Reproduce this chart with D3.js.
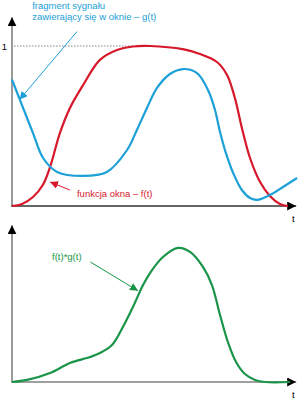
<!DOCTYPE html>
<html>
<head>
<meta charset="utf-8">
<script src="https://cdn.jsdelivr.net/npm/d3@7"></script>
<style>
	body{margin:0;background:#fff;}
	svg{display:block;}
</style>
</head>
<body>
<div id="Main_Part"></div>
<script>
// window function f(t)
var windowT = [0,0.36,0.75,1.1,1.36,1.71,2.07,2.54,3.14,3.75,4.32,4.93,6.1,6.71,7.32,7.68,7.96,8.21,8.5,8.86,9.21,9.57,9.86];
var windowF = [0,0.013,0.056,0.131,0.244,0.456,0.613,0.756,0.913,0.975,0.997,1.0,0.98,0.95,0.9,0.819,0.675,0.488,0.3,0.15,0.063,0.013,0];

// signal fragment g(t)
var signalT = [0,0.29,0.75,1.11,1.61,2.54,3.39,4.11,4.46,4.82,5.18,5.64,6.11,6.61,7.0,7.25,7.43,7.64,7.93,8.21,8.5,8.75,9.21,9.68,10.18];
var signalG = [0.79,0.66,0.456,0.3,0.213,0.188,0.213,0.35,0.475,0.613,0.738,0.825,0.856,0.831,0.725,0.6,0.463,0.331,0.194,0.1,0.05,0.038,0.069,0.119,0.175];

// product f(t)*g(t)
var productT = [0,0.54,1.36,2.07,2.79,3.14,3.57,3.96,4.32,4.68,4.93,5.39,5.93,6.36,6.82,7.14,7.43,7.71,8.0,8.32,8.68,9.04,9.93];
var productV = [0,0.013,0.056,0.119,0.156,0.181,0.231,0.344,0.469,0.606,0.681,0.781,0.838,0.813,0.719,0.606,0.419,0.25,0.125,0.05,0.013,0,0];

var labelOne = "1";
var axisName = "t";
var signalText = ["fragment sygnału","zawierający się w oknie – g(t)"];
var windowText = "funkcja okna – f(t)";
var productText = "f(t)*g(t)";

var BlueColor = "#1ba0d7";
var RedColor = "#d7182a";
var GreenColor = "#1a9448";
var FontLittleSize = 9.5;

var svg = d3.select('#Main_Part')
	.append("svg")
	.attr("width",300)
	.attr("height",400);

var defs = svg.append("defs");
function ArrowMarker(id,color,size)
{
	defs.append("marker")
	.attr("id",id)
	.attr("viewBox","0 0 10 10")
	.attr("refX",10)
	.attr("refY",5)
	.attr("markerUnits","userSpaceOnUse")
	.attr("markerWidth",size)
	.attr("markerHeight",size)
	.attr("orient","auto")
	.append("path")
	.attr("d","M0,0 L10,5 L0,10 Z")
	.style("fill",color);
	return null;
}
ArrowMarker("ArrowBlack","#000",9);
ArrowMarker("ArrowBlue",BlueColor,8);
ArrowMarker("ArrowRed",RedColor,8);
ArrowMarker("ArrowGreen",GreenColor,8);

var x = d3.scaleLinear().domain([0,10]).range([12,292]);
var yTop = d3.scaleLinear().domain([0,1]).range([206,46]);
var yBottom = d3.scaleLinear().domain([0,1]).range([382,222]);

function Axes(yScale,yMaxValue,xColor)
{
	svg.append("line")
	.attr("x1",x(0)).attr("y1",yScale(0))
	.attr("x2",x(0)).attr("y2",yScale(yMaxValue))
	.style("stroke","#808080")
	.style("stroke-width",1.6)
	.attr("marker-end","url(#ArrowBlack)");

	svg.append("line")
	.attr("x1",x(0)-0.8).attr("y1",yScale(0))
	.attr("x2",x(10.15)).attr("y2",yScale(0))
	.style("stroke",xColor)
	.style("stroke-width",1.6)
	.attr("marker-end","url(#ArrowBlack)");

	svg.append("text")
	.attr("x",x(10))
	.attr("y",yScale(0)+16)
	.text(axisName)
	.style("font-family","Liberation Sans, Arial, sans-serif")
	.style("font-size",FontLittleSize+"px")
	.style("fill","#000");
	return null;
}
Axes(yTop,1.18,"#333");
Axes(yBottom,0.98,"#808080");

// dotted level of 1
svg.append("line")
	.attr("x1",x(0)+2).attr("y1",yTop(1))
	.attr("x2",x(4.3)).attr("y2",yTop(1))
	.style("stroke","#666")
	.style("stroke-width",0.8)
	.style("stroke-dasharray","1.5,1.5");

svg.append("text")
	.attr("x",x(0)-5)
	.attr("y",yTop(1)+3.5)
	.attr("text-anchor","end")
	.text(labelOne)
	.style("font-family","Liberation Sans, Arial, sans-serif")
	.style("font-size",FontLittleSize+"px")
	.style("fill","#000");

function DrawCurve(ts,vs,yScale,color)
{
	var line = d3.line()
	.x(function(d){ return x(d[0]); })
	.y(function(d){ return yScale(d[1]); })
	.curve(d3.curveCatmullRom.alpha(0.5));

	svg.append("path")
	.datum(d3.zip(ts,vs))
	.attr("d",line)
	.style("fill","none")
	.style("stroke",color)
	.style("stroke-width",2.2)
	.style("stroke-linejoin","round");
	return null;
}
DrawCurve(windowT,windowF,yTop,RedColor);
DrawCurve(signalT,signalG,yTop,BlueColor);
DrawCurve(productT,productV,yBottom,GreenColor);

function Pointer(t1,v1,t2,v2,yScale,color,marker)
{
	svg.append("line")
	.attr("x1",x(t1)).attr("y1",yScale(v1))
	.attr("x2",x(t2)).attr("y2",yScale(v2))
	.style("stroke",color)
	.style("stroke-width",1)
	.attr("marker-end","url(#"+marker+")");
	return null;
}
Pointer(2.32,1.09,0.27,0.665,yTop,BlueColor,"ArrowBlue");
Pointer(2.07,0.1,1.36,0.15,yTop,RedColor,"ArrowRed");
Pointer(2.8,0.75,4.5,0.57,yBottom,GreenColor,"ArrowGreen");

var SignalLabel = svg.append("text")
	.attr("x",x(0.72))
	.attr("y",0)
	.style("font-family","Liberation Sans, Arial, sans-serif")
	.style("font-size",FontLittleSize+"px")
	.style("fill",BlueColor);
SignalLabel.selectAll("tspan")
	.data(signalText)
	.enter()
	.append("tspan")
	.attr("x",x(0.72))
	.attr("y",function(d,i){ return 8.5 + i*11.5; })
	.text(function(d){ return d; });

svg.append("text")
	.attr("x",x(2.32))
	.attr("y",yTop(0.058))
	.text(windowText)
	.style("font-family","Liberation Sans, Arial, sans-serif")
	.style("font-size",FontLittleSize+"px")
	.style("fill",RedColor);

svg.append("text")
	.attr("x",x(1.43))
	.attr("y",yBottom(0.76))
	.text(productText)
	.style("font-family","Liberation Sans, Arial, sans-serif")
	.style("font-size",FontLittleSize+"px")
	.style("fill",GreenColor);
</script>
</body>
</html>
